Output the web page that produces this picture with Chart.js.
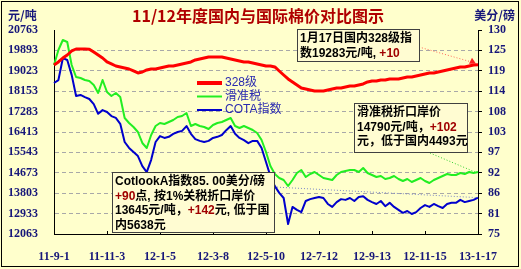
<!DOCTYPE html>
<html>
<head>
<meta charset="utf-8">
<script src="https://cdn.jsdelivr.net/npm/chart.js@4/dist/chart.umd.min.js"></script>
<style>
  body { margin: 0; background: #ffffcc; }
  canvas { display: block; }
</style>
</head>
<body>
<canvas id="priceChart" width="521" height="269"></canvas>
<script>
// tick labels
const dateLabels = ['11-9-1', '11-11-3', '12-1-5', '12-3-8', '12-5-10', '12-7-12', '12-9-13', '12-11-15', '13-1-17'];
const leftTicks = [12063, 12933, 13803, 14673, 15543, 16413, 17283, 18153, 19023, 19893, 20763];
const rightTicks = [75, 80.5, 86, 91.5, 97, 102.5, 108, 113.5, 119, 124.5, 130];
const rightTickLabels = ['75', '81', '86', '92', '97', '103', '108', '114', '119', '125', '130'];
const pointsPerLabel = 12;

// 328级 (元/吨)
const grade328 = [19271, 19399, 19569, 19697, 19868, 19953, 19953, 19950, 19945, 19825,
  19697, 19569, 19399, 19314, 19228, 19186, 19143, 19100, 19015, 18930,
  18972, 19058, 19100, 19100, 19143, 19186, 19228, 19228, 19271, 19314,
  19356, 19399, 19484, 19527, 19569, 19612, 19612, 19612, 19612, 19569,
  19527, 19484, 19441, 19399, 19399, 19356, 19314, 19271, 19228, 19228,
  19186, 19015, 18844, 18674, 18546, 18418, 18290, 18247, 18205, 18162,
  18162, 18162, 18205, 18247, 18290, 18290, 18333, 18375, 18375, 18418,
  18461, 18546, 18588, 18588, 18631, 18631, 18674, 18674, 18674, 18716,
  18759, 18759, 18802, 18844, 18887, 18930, 18930, 18972, 19015, 19058,
  19100, 19143, 19186, 19186, 19228, 19271, 19283];

// 滑准税 (元/吨)
const slidingTax = [19271, 19911, 20337, 20252, 19271, 18759, 18716, 18631, 18588, 18418,
  18077, 18631, 18119, 17949, 18077, 17907, 17011, 16797, 16627, 16413,
  15944, 15731, 16285, 16669, 16797, 16755, 16840, 16925, 17053, 17096,
  17224, 16669, 16755, 16669, 16627, 16541, 16712, 16797, 16840, 16925,
  17011, 16669, 16584, 16669, 16584, 16499, 16371, 16072, 15560, 14963,
  14622, 14451, 14366, 14110, 14366, 14665, 14793, 14494, 14622, 14707,
  14579, 14451, 14409, 14366, 14579, 14707, 14750, 14793, 14793, 14707,
  14878, 14665, 14579, 14494, 14537, 14409, 14451, 14537, 14409, 14323,
  14409, 14281, 14366, 14451, 14323, 14238, 14366, 14451, 14537, 14622,
  14579, 14579, 14665, 14622, 14707, 14665, 14707];

// COTA指数 (美分/磅)
const cotaIndex = [115.7, 116.5, 122.4, 121.9, 117.9, 112.2, 112.5, 111.9, 111.4, 110.0,
  107.4, 108.4, 107.9, 106.8, 106.3, 104.7, 99.8, 98.2, 97.1, 96.0,
  93.3, 91.7, 95.0, 99.8, 101.4, 100.9, 101.2, 102.0, 102.5, 102.8,
  104.1, 102.0, 100.6, 100.1, 99.8, 100.1, 100.9, 101.2, 101.7, 103.0,
  104.1, 102.0, 100.9, 100.3, 99.5, 100.1, 100.1, 98.2, 94.4, 90.6,
  87.9, 86.1, 84.7, 77.7, 82.3, 81.5, 80.9, 83.9, 84.4, 84.7,
  85.0, 84.7, 83.1, 82.3, 83.6, 84.4, 84.2, 84.7, 83.9, 85.0,
  85.2, 84.2, 83.6, 83.1, 83.9, 82.5, 83.4, 82.3, 81.5, 80.7,
  81.2, 80.4, 80.9, 82.0, 82.8, 82.3, 83.1, 82.5, 82.0, 83.1,
  83.4, 83.4, 84.2, 83.6, 83.9, 84.2, 84.8];

const seriesNames = ['328级', '滑准税', 'COTA指数'];
const seriesColors = ['#ff0000', '#22ee22', '#0000cc'];

const navy = '#17177a';
const darkRed = '#a00000';
const cjkFont = '"Liberation Sans", "Noto Sans CJK SC", sans-serif';

function drawRich(ctx, parts, x, y) {
    for (const [text, color] of parts) {
        ctx.fillStyle = color;
        ctx.fillText(text, x, y);
        x += ctx.measureText(text).width;
    }
}

function drawNote(ctx, box, lines) {
    ctx.save();
    ctx.fillStyle = '#fffcd2';
    ctx.fillRect(box[0], box[1], box[2], box[3]);
    ctx.strokeStyle = '#404040';
    ctx.lineWidth = 1;
    ctx.strokeRect(box[0] + 0.5, box[1] + 0.5, box[2], box[3]);
    ctx.font = 'bold 12px ' + cjkFont;
    ctx.textBaseline = 'middle';
    ctx.textAlign = 'left';
    lines.forEach((parts, i) => drawRich(ctx, parts, box[0] + 3, box[1] + 10 + i * 14.5));
    ctx.restore();
}

function dotted(ctx, x1, y1, x2, y2, color) {
    ctx.save();
    ctx.strokeStyle = color;
    ctx.lineWidth = 1;
    ctx.setLineDash([1, 2]);
    ctx.beginPath();
    ctx.moveTo(x1, y1);
    ctx.lineTo(x2, y2);
    ctx.stroke();
    ctx.restore();
}

const decorPlugin = {
    id: 'decor',
    beforeDraw(chart) {
        const ctx = chart.ctx;
        ctx.save();
        ctx.fillStyle = '#ffffcc';
        ctx.fillRect(0, 0, chart.width, chart.height);
        ctx.restore();
    },
    afterDatasetsDraw(chart) {
        const ctx = chart.ctx;
        const xs = chart.scales.x, ys = chart.scales.y, yr = chart.scales.y1;
        const area = chart.chartArea;
        const last = grade328.length - 1;

        // x axis inner tick marks
        ctx.save();
        ctx.strokeStyle = '#000';
        ctx.lineWidth = 1;
        dateLabels.forEach((l, i) => {
            const px = Math.round(xs.getPixelForValue(i * pointsPerLabel)) + 0.5;
            ctx.beginPath();
            ctx.moveTo(px, area.bottom);
            ctx.lineTo(px, area.bottom - 3);
            ctx.stroke();
        });
        ctx.restore();

        // legend
        ctx.save();
        ctx.font = '12px ' + cjkFont;
        ctx.textBaseline = 'middle';
        seriesNames.forEach((name, i) => {
            const y = 83 + i * 13.5;
            ctx.strokeStyle = seriesColors[i];
            ctx.lineWidth = i === 0 ? 4 : 2;
            ctx.beginPath();
            ctx.moveTo(197, y);
            ctx.lineTo(222, y);
            ctx.stroke();
            ctx.fillStyle = '#2a2ab0';
            ctx.fillText(name, 225, y);
        });
        ctx.restore();

        // pointer lines to last values
        const xe = xs.getPixelForValue(last);
        const redY = ys.getPixelForValue(grade328[last]);
        dotted(ctx, 419, 47, xe - 4, redY - 2, '#ff6a5a');
        ctx.save();
        ctx.fillStyle = '#ff2020';
        ctx.beginPath();
        ctx.moveTo(xe - 2, redY - 1);
        ctx.lineTo(xe - 9, redY - 1);
        ctx.lineTo(xe - 6, redY - 7);
        ctx.closePath();
        ctx.fill();
        ctx.restore();
        dotted(ctx, 430, 153, xe - 3, ys.getPixelForValue(slidingTax[last]), '#30d030');
        dotted(ctx, 274, 187, xe, yr.getPixelForValue(cotaIndex[last]), '#7a86c8');

        // notes
        drawNote(ctx, [297, 29, 122, 32], [
            [['1月17日国内328级指', '#000']],
            [['数19283元/吨, ', '#000'], ['+10', darkRed]]
        ]);
        drawNote(ctx, [354, 103, 113, 49], [
            [['滑准税折口岸价', '#000']],
            [['14790元/吨，', '#000'], ['+102', darkRed]],
            [['元，低于国内4493元', '#000']]
        ]);
        drawNote(ctx, [112, 172, 162, 60], [
            [['CotlookA指数85. 00美分/磅', '#000']],
            [['+90', darkRed], ['点, 按1%关税折口岸价', '#000']],
            [['13645元/吨，', '#000'], ['+142', darkRed], ['元, 低于国', '#000']],
            [['内5638元', '#000']]
        ]);
    },
    afterDraw(chart) {
        const ctx = chart.ctx;
        ctx.save();
        ctx.textBaseline = 'middle';
        ctx.font = 'bold 16px "Noto Sans CJK SC", sans-serif';
        ctx.fillStyle = '#b00000';
        ctx.textAlign = 'center';
        ctx.fillText('11/12年度国内与国际棉价对比图示', 258, 16);
        ctx.font = 'bold 12px "Noto Sans CJK SC", sans-serif';
        ctx.fillStyle = navy;
        ctx.textAlign = 'left';
        ctx.fillText('元/吨', 8, 15);
        ctx.textAlign = 'right';
        ctx.fillText('美分/磅', 515, 15);
        ctx.strokeStyle = '#000';
        ctx.lineWidth = 1;
        ctx.strokeRect(1.5, 1.5, 517, 265);
        ctx.restore();
    }
};

const tickFont = { family: '"Liberation Serif", "Times New Roman", serif', weight: 'bold', size: 12 };

const ctx = document.getElementById('priceChart').getContext('2d');
const myChart = new Chart(ctx, {
    type: 'line',
    data: {
        labels: grade328.map((v, i) => i),
        datasets: [{
            label: seriesNames[0],
            data: grade328,
            borderColor: seriesColors[0],
            borderWidth: 3,
            yAxisID: 'y'
        }, {
            label: seriesNames[1],
            data: slidingTax,
            borderColor: seriesColors[1],
            borderWidth: 2,
            yAxisID: 'y'
        }, {
            label: seriesNames[2],
            data: cotaIndex,
            borderColor: seriesColors[2],
            borderWidth: 2,
            yAxisID: 'y1'
        }]
    },
    options: {
        responsive: false,
        animation: false,
        layout: { padding: { top: 30, left: 0, right: 0, bottom: 0 } },
        elements: { point: { radius: 0 }, line: { tension: 0, borderJoinStyle: 'round' } },
        plugins: { legend: { display: false }, tooltip: { enabled: false } },
        scales: {
            x: {
                offset: false,
                grid: { display: false },
                border: { color: '#000', width: 1 },
                afterBuildTicks: s => { s.ticks = dateLabels.map((l, i) => ({ value: i * pointsPerLabel })); },
                afterFit: s => { s.height = 35; },
                ticks: {
                    autoSkip: false,
                    maxRotation: 0,
                    padding: 8,
                    color: navy,
                    font: tickFont,
                    callback: (v) => dateLabels[v / pointsPerLabel]
                }
            },
            y: {
                position: 'left',
                min: 12063,
                max: 20763,
                afterBuildTicks: s => { s.ticks = leftTicks.map(v => ({ value: v })); },
                afterFit: s => { s.width = 54; },
                grid: {
                    drawTicks: false,
                    color: c => (c.index === 0 || c.index === leftTicks.length - 1) ? 'rgba(0,0,0,0)' : '#a8a8a8'
                },
                border: { color: '#000', width: 1, dash: [4, 3] },
                ticks: { padding: 16, color: navy, font: tickFont, callback: v => String(v) }
            },
            y1: {
                position: 'right',
                min: 75,
                max: 130,
                afterBuildTicks: s => { s.ticks = rightTicks.map(v => ({ value: v })); },
                afterFit: s => { s.width = 43; },
                grid: { drawOnChartArea: false, drawTicks: true, tickLength: 4, color: '#000' },
                border: { color: '#000', width: 1 },
                ticks: {
                    padding: 6,
                    color: navy,
                    font: tickFont,
                    callback: (v, i) => rightTickLabels[i]
                }
            }
        }
    },
    plugins: [decorPlugin]
});
</script>
</body>
</html>
